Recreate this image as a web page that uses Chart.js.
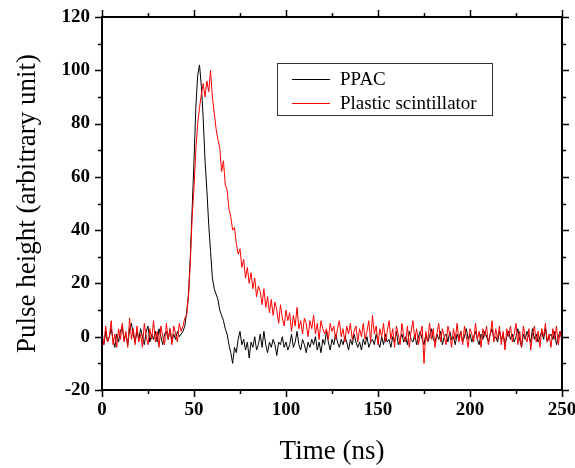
<!DOCTYPE html>
<html>
<head>
<meta charset="utf-8">
<script src="https://cdn.jsdelivr.net/npm/chart.js@4"></script>
<style>
  html, body { margin: 0; padding: 0; background: #fff; overflow: hidden; }
  #wrap { width: 600px; height: 468px; }
</style>
</head>
<body>
<div id="wrap"><canvas id="pulseChart" width="600" height="468"></canvas></div>
<script>
// sampling: one point per ns, starting at 0 ns
const timeStart = 0;
const timeStep = 1;

// PPAC signal (black), 0..250 ns
const ppac = [
  -1, -3, 2, -2, 0, 3, -1, -4, 1, -2, 2, 4, -1, 1, -3, 3, 5, 1, -2, 2,
  -1, 3, 0, -3, 2, 4, -2, 1, -1, 2, -2, 3, 0, -3, 1, 2, -1, 3, -2, 1,
  -1, 2, 0, 1, 2, 4, 9, 16, 30, 48, 66, 86, 98, 102, 94, 82, 66, 55, 42, 32,
  22, 18, 16, 14, 10, 8, 6, 3, 1, -3, -6, -10, -4, -6, -1, 2, -3, -1, -5, -2,
  -8, -2, -4, 0, -5, -3, 1, -4, 2, -3, -6, -2, -4, -1, -3, -7, -2, -3, 0, -4,
  -2, -5, -3, 1, -4, -2, 2, -3, -5, -1, -3, -6, -2, -4, -1, -3, 0, -5, -2, -6,
  -1, -3, 2, -2, -5, -1, -3, 1, -2, -4, -1, -3, 0, -2, -5, -1, -3, 1, -2, -4,
  -2, -5, -1, -3, 0, -4, -2, -1, -3, 1, -2, -4, 0, -3, 1, -2, -1, -4, 0, -2,
  2, -3, -1, 1, -2, 0, -3, 2, -1, -2, 1, -3, 0, 2, -1, -3, 1, -2, 0, 3,
  -1, -2, 1, -1, 2, -3, 0, 1, -2, 2, -1, 0, -3, 1, -1, 2, -2, 0, 3, -1,
  1, -2, 0, 2, -1, -3, 1, -1, 2, 0, -2, 1, 3, -1, 0, -2, 2, -1, 1, -3,
  0, 2, -1, 1, -2, 0, 3, -1, -4, 1, -1, 2, 0, -2, 3, -1, 1, -2, 0, 2,
  -1, 3, -2, 0, 1, -1, 2, -3, 0, 2, -1
];

// plastic scintillator signal (red), 0..250 ns
const plastic = [
  2, -3, 4, -2, 0, 6, -3, 1, -4, 3, -1, 5, -2, 2, -4, 7, -1, 3, -3, 4,
  -2, 1, -4, 5, 0, -3, 3, -1, 6, -2, 2, -4, 4, 0, -3, 5, -1, 3, -3, 4,
  1, -2, 5, 2, 4, 7, 8, 15, 28, 45, 56, 70, 80, 86, 91, 95, 90, 96, 92, 100,
  90, 84, 78, 74, 71, 62, 66, 57, 55, 48, 45, 40, 41, 35, 31, 33, 26, 29, 22, 26,
  20, 24, 18, 22, 15, 19, 17, 12, 18, 11, 15, 9, 14, 8, 13, 10, 5, 12, 7, 4,
  10, 6, 9, 2, 8, 4, 11, 3, 6, 1, 7, 5, 0, 6, 3, 8, 1, 5, -1, 6,
  3, 1, 3, -1, 5, 2, 4, -1, 3, 6, 0, 3, -2, 4, 1, 5, -1, 2, 4, -2,
  3, 0, 5, -1, 2, 6, -2, 8, 1, 4, -3, 3, 0, 5, -2, 2, 6, -1, 3, -4,
  4, 1, -3, 5, 0, -2, 4, -4, 2, 6, -1, 3, -3, 1, 4, -10, 2, -2, 5, -1,
  3, -4, 1, 5, -2, 3, 0, -3, 4, 1, -4, 3, -1, 5, -2, 2, -3, 4, 0, -4,
  3, 1, -2, 5, -1, 2, -4, 3, 0, 4, -3, 1, 6, -2, 3, -1, 4, -3, 2, -5,
  3, 0, 4, -2, 1, 5, -3, 2, -4, 4, 0, -2, 3, -5, 1, 4, -2, 2, -4, 3,
  0, 5, -2, 1, -4, 3, -1, 4, -3, 2, -2
];

const seriesNames = ['PPAC', 'Plastic scintillator'];
const seriesColors = ['#000000', '#ff0000'];

const xMin = 0, xMax = 250, xMajor = 50, xMinor = 25;
const yMin = -20, yMax = 120, yMajor = 20, yMinor = 10;

const serif = "'Liberation Serif', 'Times New Roman', serif";

function toPoints(values) {
  return values.map((v, i) => ({ x: timeStart + i * timeStep, y: v }));
}

// frame on all four sides with outward major/minor ticks
const framePlugin = {
  id: 'frame',
  afterDraw(chart) {
    const ctx = chart.ctx;
    const a = chart.chartArea;
    const xs = chart.scales.x, ys = chart.scales.y;
    ctx.save();
    ctx.strokeStyle = '#000';
    ctx.lineWidth = 2;
    ctx.strokeRect(a.left, a.top, a.right - a.left, a.bottom - a.top);
    ctx.lineWidth = 1.5;
    ctx.beginPath();
    for (let v = xMin; v <= xMax; v += xMinor) {
      const px = Math.round(xs.getPixelForValue(v)) + 0.5;
      const len = (v % xMajor === 0) ? 7 : 4;
      ctx.moveTo(px, a.bottom); ctx.lineTo(px, a.bottom + len);
      ctx.moveTo(px, a.top); ctx.lineTo(px, a.top - len);
    }
    for (let v = yMin; v <= yMax; v += yMinor) {
      const py = Math.round(ys.getPixelForValue(v)) + 0.5;
      const len = (v % yMajor === 0) ? 7 : 4;
      ctx.moveTo(a.left, py); ctx.lineTo(a.left - len, py);
      ctx.moveTo(a.right, py); ctx.lineTo(a.right + len, py);
    }
    ctx.stroke();
    ctx.restore();
  }
};

// boxed legend inside the plot, upper right
const legendBox = {
  id: 'legendBox',
  afterDraw(chart) {
    const ctx = chart.ctx;
    const bx = 277, by = 63, bw = 215, bh = 52;
    ctx.save();
    ctx.fillStyle = '#fff';
    ctx.fillRect(bx, by, bw, bh);
    ctx.strokeStyle = '#333';
    ctx.lineWidth = 1;
    ctx.strokeRect(bx + 0.5, by + 0.5, bw, bh);
    ctx.font = '19px ' + serif;
    ctx.textBaseline = 'middle';
    seriesNames.forEach((name, i) => {
      const ly = by + 16 + i * 24;
      ctx.strokeStyle = seriesColors[i];
      ctx.beginPath();
      ctx.moveTo(292, ly + 0.5);
      ctx.lineTo(330, ly + 0.5);
      ctx.stroke();
      ctx.fillStyle = '#000';
      ctx.fillText(name, 340, ly + 1);
    });
    ctx.restore();
  }
};

new Chart(document.getElementById('pulseChart'), {
  type: 'line',
  data: {
    datasets: [
      {
        label: seriesNames[0],
        data: toPoints(ppac),
        borderColor: seriesColors[0],
        borderWidth: 1,
        pointRadius: 0,
        tension: 0,
        order: 1
      },
      {
        label: seriesNames[1],
        data: toPoints(plastic),
        borderColor: seriesColors[1],
        borderWidth: 1,
        pointRadius: 0,
        tension: 0,
        order: 0
      }
    ]
  },
  options: {
    responsive: false,
    animation: false,
    devicePixelRatio: 1,
    layout: { padding: { top: 17, right: 38, left: 0, bottom: 0 } },
    plugins: {
      legend: { display: false },
      tooltip: { enabled: false }
    },
    scales: {
      x: {
        type: 'linear',
        min: xMin,
        max: xMax,
        grid: { display: false },
        border: { display: false },
        ticks: {
          stepSize: xMajor,
          color: '#000',
          padding: 1,
          maxRotation: 0,
          font: { family: serif, size: 19, weight: 'bold' }
        },
        title: {
          display: true,
          text: 'Time (ns)',
          color: '#000',
          font: { family: serif, size: 27 },
          padding: { top: 5, bottom: 0 }
        },
        afterFit(scale) { scale.height = 78; }
      },
      y: {
        min: yMin,
        max: yMax,
        grid: { display: false },
        border: { display: false },
        ticks: {
          stepSize: yMajor,
          color: '#000',
          padding: 4,
          font: { family: serif, size: 19, weight: 'bold' }
        },
        title: {
          display: true,
          text: 'Pulse height (arbitrary unit)',
          color: '#000',
          font: { family: serif, size: 27 },
          padding: { top: 12, bottom: 0 }
        },
        afterFit(scale) { scale.width = 102; }
      }
    }
  },
  plugins: [framePlugin, legendBox]
});
</script>
</body>
</html>
